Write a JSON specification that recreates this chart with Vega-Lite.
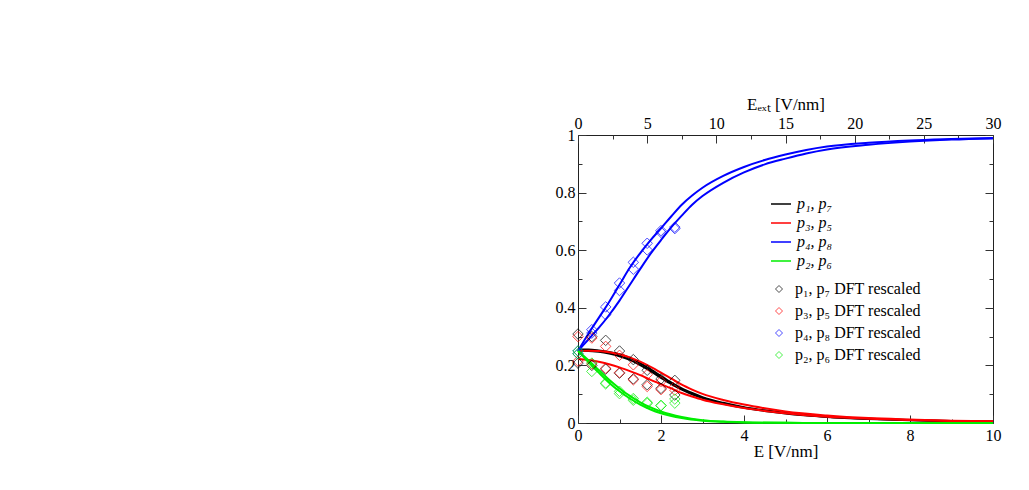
{
  "$schema": "https://vega.github.io/schema/vega-lite/v6.json",
  "width": 415,
  "height": 288,
  "autosize": {"type": "none"},
  "padding": {"left": 578, "top": 135, "right": 36, "bottom": 67},
  "background": "white",
  "config": {
    "font": "Liberation Serif",
    "view": {"stroke": "#222", "strokeWidth": 1},
    "axis": {"grid": false, "domain": false, "labelFlush": false, "labelFont": "Liberation Serif", "labelFontSize": 16, "labelColor": "#000", "titleFont": "Liberation Serif", "titleFontSize": 17, "titleFontWeight": "normal", "titleColor": "#000", "tickColor": "#333", "tickWidth": 1},
    "legend": {"labelFont": "Liberation Serif", "labelFontSize": 16, "labelColor": "#000", "padding": 0, "title": null}
  },
  "datasets": {
    "curves": [
      {"g":"p₁, p₇","c":"k1","x":0,"y":0.255},{"g":"p₁, p₇","c":"k1","x":0.25,"y":0.255},{"g":"p₁, p₇","c":"k1","x":0.5,"y":0.252},{"g":"p₁, p₇","c":"k1","x":0.75,"y":0.247},{"g":"p₁, p₇","c":"k1","x":1,"y":0.239},{"g":"p₁, p₇","c":"k1","x":1.25,"y":0.226},{"g":"p₁, p₇","c":"k1","x":1.5,"y":0.208},{"g":"p₁, p₇","c":"k1","x":1.75,"y":0.186},{"g":"p₁, p₇","c":"k1","x":2,"y":0.163},{"g":"p₁, p₇","c":"k1","x":2.25,"y":0.14},{"g":"p₁, p₇","c":"k1","x":2.5,"y":0.12},{"g":"p₁, p₇","c":"k1","x":2.75,"y":0.104},{"g":"p₁, p₇","c":"k1","x":3,"y":0.09},{"g":"p₁, p₇","c":"k1","x":3.5,"y":0.07},{"g":"p₁, p₇","c":"k1","x":4,"y":0.055},{"g":"p₁, p₇","c":"k1","x":4.5,"y":0.044},{"g":"p₁, p₇","c":"k1","x":5,"y":0.035},{"g":"p₁, p₇","c":"k1","x":6,"y":0.022},{"g":"p₁, p₇","c":"k1","x":7,"y":0.015},{"g":"p₁, p₇","c":"k1","x":8,"y":0.01},{"g":"p₁, p₇","c":"k1","x":9,"y":0.007},{"g":"p₁, p₇","c":"k1","x":10,"y":0.005},
      {"g":"p₁, p₇","c":"k2","x":0,"y":0.25},{"g":"p₁, p₇","c":"k2","x":0.25,"y":0.25},{"g":"p₁, p₇","c":"k2","x":0.5,"y":0.247},{"g":"p₁, p₇","c":"k2","x":0.75,"y":0.241},{"g":"p₁, p₇","c":"k2","x":1,"y":0.232},{"g":"p₁, p₇","c":"k2","x":1.25,"y":0.219},{"g":"p₁, p₇","c":"k2","x":1.5,"y":0.201},{"g":"p₁, p₇","c":"k2","x":1.75,"y":0.18},{"g":"p₁, p₇","c":"k2","x":2,"y":0.157},{"g":"p₁, p₇","c":"k2","x":2.25,"y":0.135},{"g":"p₁, p₇","c":"k2","x":2.5,"y":0.116},{"g":"p₁, p₇","c":"k2","x":2.75,"y":0.1},{"g":"p₁, p₇","c":"k2","x":3,"y":0.087},{"g":"p₁, p₇","c":"k2","x":3.5,"y":0.067},{"g":"p₁, p₇","c":"k2","x":4,"y":0.053},{"g":"p₁, p₇","c":"k2","x":4.5,"y":0.042},{"g":"p₁, p₇","c":"k2","x":5,"y":0.033},{"g":"p₁, p₇","c":"k2","x":6,"y":0.021},{"g":"p₁, p₇","c":"k2","x":7,"y":0.014},{"g":"p₁, p₇","c":"k2","x":8,"y":0.0095},{"g":"p₁, p₇","c":"k2","x":9,"y":0.0065},{"g":"p₁, p₇","c":"k2","x":10,"y":0.0045},
      {"g":"p₃, p₅","c":"r1","x":0,"y":0.25},{"g":"p₃, p₅","c":"r1","x":0.25,"y":0.251},{"g":"p₃, p₅","c":"r1","x":0.5,"y":0.25},{"g":"p₃, p₅","c":"r1","x":0.75,"y":0.246},{"g":"p₃, p₅","c":"r1","x":1,"y":0.239},{"g":"p₃, p₅","c":"r1","x":1.25,"y":0.228},{"g":"p₃, p₅","c":"r1","x":1.5,"y":0.213},{"g":"p₃, p₅","c":"r1","x":1.75,"y":0.195},{"g":"p₃, p₅","c":"r1","x":2,"y":0.175},{"g":"p₃, p₅","c":"r1","x":2.25,"y":0.154},{"g":"p₃, p₅","c":"r1","x":2.5,"y":0.133},{"g":"p₃, p₅","c":"r1","x":2.75,"y":0.116},{"g":"p₃, p₅","c":"r1","x":3,"y":0.101},{"g":"p₃, p₅","c":"r1","x":3.5,"y":0.08},{"g":"p₃, p₅","c":"r1","x":4,"y":0.064},{"g":"p₃, p₅","c":"r1","x":4.5,"y":0.051},{"g":"p₃, p₅","c":"r1","x":5,"y":0.04},{"g":"p₃, p₅","c":"r1","x":6,"y":0.026},{"g":"p₃, p₅","c":"r1","x":7,"y":0.017},{"g":"p₃, p₅","c":"r1","x":8,"y":0.012},{"g":"p₃, p₅","c":"r1","x":9,"y":0.008},{"g":"p₃, p₅","c":"r1","x":10,"y":0.006},
      {"g":"p₃, p₅","c":"r2","x":0,"y":0.222},{"g":"p₃, p₅","c":"r2","x":0.25,"y":0.219},{"g":"p₃, p₅","c":"r2","x":0.5,"y":0.213},{"g":"p₃, p₅","c":"r2","x":0.75,"y":0.204},{"g":"p₃, p₅","c":"r2","x":1,"y":0.193},{"g":"p₃, p₅","c":"r2","x":1.25,"y":0.18},{"g":"p₃, p₅","c":"r2","x":1.5,"y":0.166},{"g":"p₃, p₅","c":"r2","x":1.75,"y":0.15},{"g":"p₃, p₅","c":"r2","x":2,"y":0.135},{"g":"p₃, p₅","c":"r2","x":2.25,"y":0.12},{"g":"p₃, p₅","c":"r2","x":2.5,"y":0.104},{"g":"p₃, p₅","c":"r2","x":2.75,"y":0.092},{"g":"p₃, p₅","c":"r2","x":3,"y":0.081},{"g":"p₃, p₅","c":"r2","x":3.5,"y":0.065},{"g":"p₃, p₅","c":"r2","x":4,"y":0.052},{"g":"p₃, p₅","c":"r2","x":4.5,"y":0.042},{"g":"p₃, p₅","c":"r2","x":5,"y":0.034},{"g":"p₃, p₅","c":"r2","x":6,"y":0.022},{"g":"p₃, p₅","c":"r2","x":7,"y":0.015},{"g":"p₃, p₅","c":"r2","x":8,"y":0.01},{"g":"p₃, p₅","c":"r2","x":9,"y":0.007},{"g":"p₃, p₅","c":"r2","x":10,"y":0.005},
      {"g":"p₄, p₈","c":"b1","x":0,"y":0.25},{"g":"p₄, p₈","c":"b1","x":0.25,"y":0.31},{"g":"p₄, p₈","c":"b1","x":0.5,"y":0.365},{"g":"p₄, p₈","c":"b1","x":0.75,"y":0.42},{"g":"p₄, p₈","c":"b1","x":1,"y":0.48},{"g":"p₄, p₈","c":"b1","x":1.25,"y":0.54},{"g":"p₄, p₈","c":"b1","x":1.5,"y":0.59},{"g":"p₄, p₈","c":"b1","x":1.75,"y":0.635},{"g":"p₄, p₈","c":"b1","x":2,"y":0.676},{"g":"p₄, p₈","c":"b1","x":2.25,"y":0.718},{"g":"p₄, p₈","c":"b1","x":2.5,"y":0.758},{"g":"p₄, p₈","c":"b1","x":2.75,"y":0.79},{"g":"p₄, p₈","c":"b1","x":3,"y":0.817},{"g":"p₄, p₈","c":"b1","x":3.5,"y":0.858},{"g":"p₄, p₈","c":"b1","x":4,"y":0.889},{"g":"p₄, p₈","c":"b1","x":4.5,"y":0.913},{"g":"p₄, p₈","c":"b1","x":5,"y":0.932},{"g":"p₄, p₈","c":"b1","x":5.5,"y":0.948},{"g":"p₄, p₈","c":"b1","x":6,"y":0.96},{"g":"p₄, p₈","c":"b1","x":7,"y":0.973},{"g":"p₄, p₈","c":"b1","x":8,"y":0.981},{"g":"p₄, p₈","c":"b1","x":9,"y":0.986},{"g":"p₄, p₈","c":"b1","x":10,"y":0.99},
      {"g":"p₄, p₈","c":"b2","x":0,"y":0.25},{"g":"p₄, p₈","c":"b2","x":0.25,"y":0.29},{"g":"p₄, p₈","c":"b2","x":0.5,"y":0.33},{"g":"p₄, p₈","c":"b2","x":0.75,"y":0.375},{"g":"p₄, p₈","c":"b2","x":1,"y":0.425},{"g":"p₄, p₈","c":"b2","x":1.25,"y":0.48},{"g":"p₄, p₈","c":"b2","x":1.5,"y":0.535},{"g":"p₄, p₈","c":"b2","x":1.75,"y":0.588},{"g":"p₄, p₈","c":"b2","x":2,"y":0.635},{"g":"p₄, p₈","c":"b2","x":2.25,"y":0.68},{"g":"p₄, p₈","c":"b2","x":2.5,"y":0.72},{"g":"p₄, p₈","c":"b2","x":2.75,"y":0.758},{"g":"p₄, p₈","c":"b2","x":3,"y":0.788},{"g":"p₄, p₈","c":"b2","x":3.5,"y":0.834},{"g":"p₄, p₈","c":"b2","x":4,"y":0.87},{"g":"p₄, p₈","c":"b2","x":4.5,"y":0.898},{"g":"p₄, p₈","c":"b2","x":5,"y":0.918},{"g":"p₄, p₈","c":"b2","x":5.5,"y":0.936},{"g":"p₄, p₈","c":"b2","x":6,"y":0.95},{"g":"p₄, p₈","c":"b2","x":7,"y":0.966},{"g":"p₄, p₈","c":"b2","x":8,"y":0.977},{"g":"p₄, p₈","c":"b2","x":9,"y":0.984},{"g":"p₄, p₈","c":"b2","x":10,"y":0.988},
      {"g":"p₂, p₆","c":"g1","x":0,"y":0.25},{"g":"p₂, p₆","c":"g1","x":0.25,"y":0.212},{"g":"p₂, p₆","c":"g1","x":0.5,"y":0.175},{"g":"p₂, p₆","c":"g1","x":0.75,"y":0.14},{"g":"p₂, p₆","c":"g1","x":1,"y":0.11},{"g":"p₂, p₆","c":"g1","x":1.25,"y":0.085},{"g":"p₂, p₆","c":"g1","x":1.5,"y":0.064},{"g":"p₂, p₆","c":"g1","x":1.75,"y":0.047},{"g":"p₂, p₆","c":"g1","x":2,"y":0.034},{"g":"p₂, p₆","c":"g1","x":2.5,"y":0.017},{"g":"p₂, p₆","c":"g1","x":3,"y":0.008},{"g":"p₂, p₆","c":"g1","x":3.5,"y":0.004},{"g":"p₂, p₆","c":"g1","x":4,"y":0.002},{"g":"p₂, p₆","c":"g1","x":5,"y":0.0005},{"g":"p₂, p₆","c":"g1","x":6,"y":0.0001},{"g":"p₂, p₆","c":"g1","x":10,"y":0},
      {"g":"p₂, p₆","c":"g2","x":0,"y":0.25},{"g":"p₂, p₆","c":"g2","x":0.25,"y":0.218},{"g":"p₂, p₆","c":"g2","x":0.5,"y":0.184},{"g":"p₂, p₆","c":"g2","x":0.75,"y":0.15},{"g":"p₂, p₆","c":"g2","x":1,"y":0.12},{"g":"p₂, p₆","c":"g2","x":1.25,"y":0.094},{"g":"p₂, p₆","c":"g2","x":1.5,"y":0.072},{"g":"p₂, p₆","c":"g2","x":1.75,"y":0.054},{"g":"p₂, p₆","c":"g2","x":2,"y":0.04},{"g":"p₂, p₆","c":"g2","x":2.5,"y":0.021},{"g":"p₂, p₆","c":"g2","x":3,"y":0.01},{"g":"p₂, p₆","c":"g2","x":3.5,"y":0.005},{"g":"p₂, p₆","c":"g2","x":4,"y":0.0025},{"g":"p₂, p₆","c":"g2","x":5,"y":0.0006},{"g":"p₂, p₆","c":"g2","x":6,"y":0.0001},{"g":"p₂, p₆","c":"g2","x":10,"y":0}
    ],
    "dft": [
      {"g":"p₁, p₇  DFT rescaled","x":0,"y":0.309},{"g":"p₁, p₇  DFT rescaled","x":0,"y":0.208},{"g":"p₁, p₇  DFT rescaled","x":0.333,"y":0.3},{"g":"p₁, p₇  DFT rescaled","x":0.333,"y":0.2},{"g":"p₁, p₇  DFT rescaled","x":0.667,"y":0.287},{"g":"p₁, p₇  DFT rescaled","x":0.667,"y":0.187},{"g":"p₁, p₇  DFT rescaled","x":1,"y":0.25},{"g":"p₁, p₇  DFT rescaled","x":1,"y":0.173},{"g":"p₁, p₇  DFT rescaled","x":1.333,"y":0.22},{"g":"p₁, p₇  DFT rescaled","x":1.333,"y":0.153},{"g":"p₁, p₇  DFT rescaled","x":1.667,"y":0.183},{"g":"p₁, p₇  DFT rescaled","x":1.667,"y":0.133},{"g":"p₁, p₇  DFT rescaled","x":2,"y":0.153},{"g":"p₁, p₇  DFT rescaled","x":2,"y":0.12},{"g":"p₁, p₇  DFT rescaled","x":2.333,"y":0.148},{"g":"p₁, p₇  DFT rescaled","x":2.333,"y":0.097},
      {"g":"p₃, p₅ DFT rescaled","x":0,"y":0.3},{"g":"p₃, p₅ DFT rescaled","x":0,"y":0.215},{"g":"p₃, p₅ DFT rescaled","x":0.333,"y":0.295},{"g":"p₃, p₅ DFT rescaled","x":0.333,"y":0.205},{"g":"p₃, p₅ DFT rescaled","x":0.667,"y":0.266},{"g":"p₃, p₅ DFT rescaled","x":0.667,"y":0.19},{"g":"p₃, p₅ DFT rescaled","x":1,"y":0.235},{"g":"p₃, p₅ DFT rescaled","x":1,"y":0.175},{"g":"p₃, p₅ DFT rescaled","x":1.333,"y":0.202},{"g":"p₃, p₅ DFT rescaled","x":1.333,"y":0.15},{"g":"p₃, p₅ DFT rescaled","x":1.667,"y":0.168},{"g":"p₃, p₅ DFT rescaled","x":1.667,"y":0.127},{"g":"p₃, p₅ DFT rescaled","x":2,"y":0.144},{"g":"p₃, p₅ DFT rescaled","x":2,"y":0.116},{"g":"p₃, p₅ DFT rescaled","x":2.333,"y":0.127},{"g":"p₃, p₅ DFT rescaled","x":2.333,"y":0.114},
      {"g":"p₄, p₈ DFT rescaled","x":0,"y":0.25},{"g":"p₄, p₈ DFT rescaled","x":0,"y":0.24},{"g":"p₄, p₈ DFT rescaled","x":0.333,"y":0.324},{"g":"p₄, p₈ DFT rescaled","x":0.333,"y":0.312},{"g":"p₄, p₈ DFT rescaled","x":0.667,"y":0.403},{"g":"p₄, p₈ DFT rescaled","x":0.667,"y":0.376},{"g":"p₄, p₈ DFT rescaled","x":1,"y":0.486},{"g":"p₄, p₈ DFT rescaled","x":1,"y":0.46},{"g":"p₄, p₈ DFT rescaled","x":1.333,"y":0.558},{"g":"p₄, p₈ DFT rescaled","x":1.333,"y":0.534},{"g":"p₄, p₈ DFT rescaled","x":1.667,"y":0.624},{"g":"p₄, p₈ DFT rescaled","x":1.667,"y":0.601},{"g":"p₄, p₈ DFT rescaled","x":2,"y":0.668},{"g":"p₄, p₈ DFT rescaled","x":2,"y":0.662},{"g":"p₄, p₈ DFT rescaled","x":2.333,"y":0.68},{"g":"p₄, p₈ DFT rescaled","x":2.333,"y":0.675},
      {"g":"p₂, p₆ DFT rescaled","x":0,"y":0.25},{"g":"p₂, p₆ DFT rescaled","x":0,"y":0.24},{"g":"p₂, p₆ DFT rescaled","x":0.333,"y":0.208},{"g":"p₂, p₆ DFT rescaled","x":0.333,"y":0.179},{"g":"p₂, p₆ DFT rescaled","x":0.667,"y":0.139},{"g":"p₂, p₆ DFT rescaled","x":0.667,"y":0.136},{"g":"p₂, p₆ DFT rescaled","x":1,"y":0.11},{"g":"p₂, p₆ DFT rescaled","x":1,"y":0.102},{"g":"p₂, p₆ DFT rescaled","x":1.333,"y":0.085},{"g":"p₂, p₆ DFT rescaled","x":1.333,"y":0.079},{"g":"p₂, p₆ DFT rescaled","x":1.667,"y":0.072},{"g":"p₂, p₆ DFT rescaled","x":1.667,"y":0.068},{"g":"p₂, p₆ DFT rescaled","x":2,"y":0.061},{"g":"p₂, p₆ DFT rescaled","x":2,"y":0.06},{"g":"p₂, p₆ DFT rescaled","x":2.333,"y":0.083},{"g":"p₂, p₆ DFT rescaled","x":2.333,"y":0.069}
    ]
  },
  "resolve": {"axis": {"x": "independent", "y": "independent"}},
  "layer": [
    {
      "data": {"name": "curves"},
      "mark": {"type": "line", "interpolate": "monotone", "strokeWidth": 2},
      "encoding": {
        "x": {"field": "x", "type": "quantitative", "scale": {"domain": [0, 10], "nice": false, "zero": false},
              "axis": {"orient": "bottom", "values": [0, 2, 4, 6, 8, 10], "tickSize": -8, "labelPadding": 12, "labelFlush": false, "labelFont": "Liberation Serif", "titleFont": "Liberation Serif", "title": "E [V/nm]", "titlePadding": 0}},
        "y": {"field": "y", "type": "quantitative", "scale": {"domain": [0, 1], "nice": false},
              "axis": {"orient": "left", "values": [0, 0.2, 0.4, 0.6, 0.8, 1], "format": "~g", "tickSize": -8, "labelPadding": 11, "labelFlush": false, "labelFont": "Liberation Serif", "title": null}},
        "color": {"field": "g", "type": "nominal",
                  "scale": {"domain": ["p₁, p₇", "p₃, p₅", "p₄, p₈", "p₂, p₆"], "range": ["#000000", "#ff0000", "#0000ff", "#00ee00"]},
                  "legend": {"orient": "none", "legendX": 192, "legendY": 58, "symbolType": "stroke", "symbolSize": 400, "symbolStrokeWidth": 1.5, "labelOffset": 5, "labelFont": "Liberation Serif", "labelFontStyle": "italic", "rowPadding": -1}},
        "detail": {"field": "c", "type": "nominal"}
      }
    },
    {
      "data": {"name": "dft"},
      "mark": {"type": "point", "shape": "diamond", "filled": false, "size": 110, "strokeWidth": 1},
      "encoding": {
        "x": {"field": "x", "type": "quantitative",
              "axis": {"orient": "bottom", "values": [1, 3, 5, 7, 9], "tickSize": -4, "labels": false, "title": null}},
        "y": {"field": "y", "type": "quantitative",
              "axis": {"orient": "left", "values": [0.1, 0.3, 0.5, 0.7, 0.9], "tickSize": -4, "labels": false, "title": null}},
        "stroke": {"field": "g", "type": "nominal",
                   "scale": {"domain": ["p₁, p₇  DFT rescaled", "p₃, p₅ DFT rescaled", "p₄, p₈ DFT rescaled", "p₂, p₆ DFT rescaled"], "range": ["#000000", "#ff0000", "#0000ff", "#00ee00"]},
                   "legend": {"orient": "none", "legendX": 193, "legendY": 146, "symbolType": "diamond", "symbolSize": 49, "symbolStrokeWidth": 1, "labelOffset": 8, "labelFont": "Liberation Serif", "rowPadding": 6}}
      }
    },
    {
      "data": {"name": "dft"},
      "mark": {"type": "point", "opacity": 0},
      "encoding": {
        "x": {"field": "x", "type": "quantitative",
              "axis": {"orient": "top", "values": [0, 1.66667, 3.33333, 5, 6.66667, 8.33333, 10], "labelExpr": "'' + round(datum.value * 3)", "tickSize": -8, "labelPadding": 12, "labelFlush": false, "labelFont": "Liberation Serif", "titleFont": "Liberation Serif", "title": "Eₑₓₜ [V/nm]", "titlePadding": 2}},
        "y": {"field": "y", "type": "quantitative",
              "axis": {"orient": "right", "values": [0, 0.2, 0.4, 0.6, 0.8, 1], "tickSize": -8, "labels": false, "title": null}}
      }
    },
    {
      "data": {"name": "dft"},
      "mark": {"type": "point", "opacity": 0},
      "encoding": {
        "x": {"field": "x", "type": "quantitative",
              "axis": {"orient": "top", "values": [0.83333, 2.5, 4.16667, 5.83333, 7.5, 9.16667], "tickSize": -4, "labels": false, "title": null}},
        "y": {"field": "y", "type": "quantitative",
              "axis": {"orient": "right", "values": [0.1, 0.3, 0.5, 0.7, 0.9], "tickSize": -4, "labels": false, "title": null}}
      }
    }
  ]
}
